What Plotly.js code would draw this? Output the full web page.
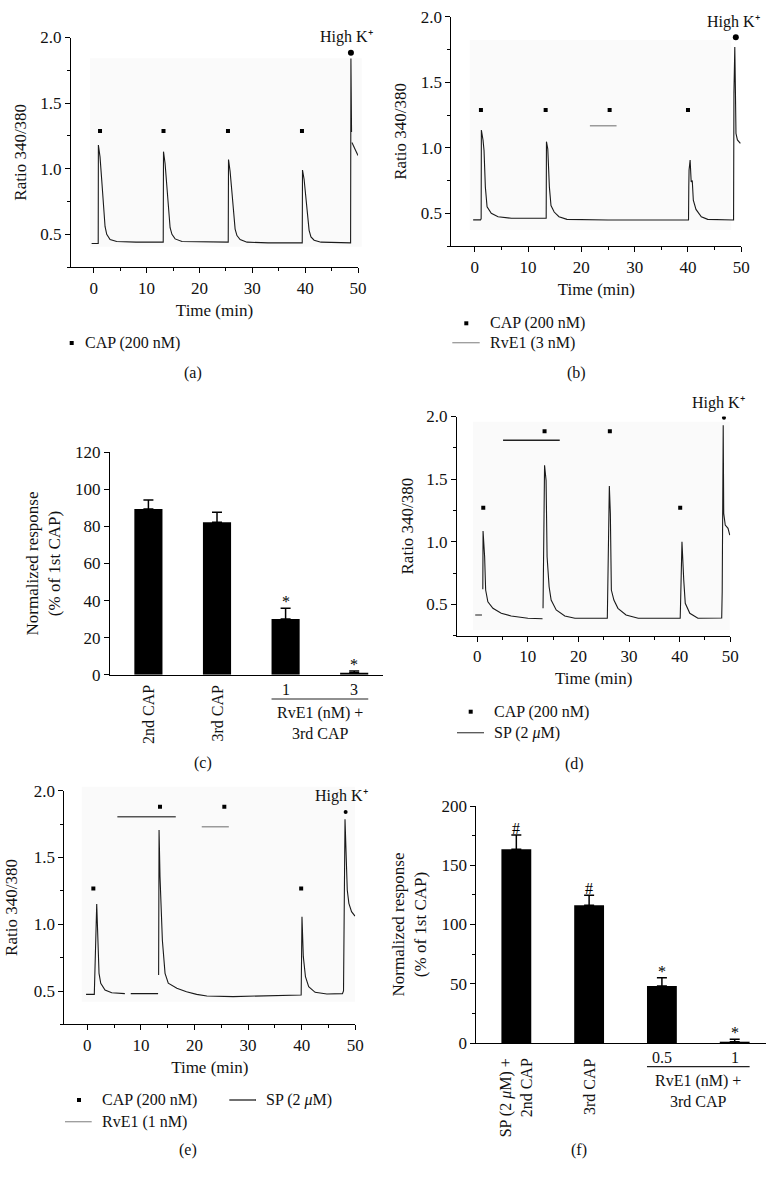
<!DOCTYPE html>
<html><head><meta charset="utf-8">
<script src="https://cdn.plot.ly/plotly-3.0.1.min.js"></script>
<style>html,body{margin:0;padding:0;background:#fff}#chart{width:777px;height:1183px}</style>
</head><body><div id="chart"></div>
<script>
// ================= DATA =================
// (a) ratio trace [time (min), ratio]
const traceA = [[-0.4,0.43],[0.85,0.43],[0.88,1.18],[1.19,1.09],[1.52,0.91],[1.82,0.71],[2.14,0.56],[2.46,0.50],[3.09,0.46],[4.35,0.445],[8,0.44],[13.15,0.44],[13.2,1.13],[13.5,1.04],[13.85,0.87],[14.15,0.68],[14.45,0.55],[14.8,0.50],[15.4,0.465],[16.7,0.445],[20,0.445],[25.45,0.44],[25.5,1.07],[25.8,0.98],[26.15,0.82],[26.45,0.64],[26.75,0.54],[27.1,0.49],[27.7,0.46],[29.0,0.44],[33,0.435],[39.45,0.435],[39.5,0.99],[39.8,0.92],[40.15,0.78],[40.45,0.62],[40.75,0.53],[41.1,0.48],[41.7,0.455],[43.0,0.44],[46,0.435],[48.6,0.435],[48.66,1.84],[48.72,1.65],[48.78,1.28],[null,null],[48.85,1.2],[48.97,1.19],[49.2,1.16],[49.5,1.14],[49.8,1.12],[50.0,1.10]];
const capA_x = [1.19, 13.2, 25.4, 39.4];
const capA_y = [1.287, 1.287, 1.287, 1.287];
const highKA_x = [48.66], highKA_y = [1.883];

// (b)
const traceB = [[-0.3,0.45],[1.1,0.45],[1.2,0.46],[1.24,1.136],[1.55,1.06],[1.74,0.98],[1.99,0.70],[2.31,0.55],[3.1,0.50],[4.37,0.474],[6.87,0.462],[13.1,0.462],[13.4,0.462],[13.45,1.047],[13.7,0.99],[14.0,0.70],[14.3,0.56],[14.9,0.51],[15.8,0.474],[17.3,0.454],[25,0.449],[35,0.449],[40.1,0.449],[40.15,0.70],[40.2,0.83],[40.4,0.907],[40.6,0.74],[40.8,0.75],[41.0,0.60],[41.5,0.53],[42.5,0.474],[43.7,0.454],[48.55,0.449],[48.62,1.42],[48.78,1.77],[48.9,1.42],[48.97,1.30],[49.0,1.11],[49.27,1.06],[49.83,1.034]];
const capB_x = [1.16, 13.3, 25.3, 40.0];
const capB_y = [1.289, 1.289, 1.289, 1.289];
const highKB_x = [48.97], highKB_y = [1.843];
const rveB_x = [21.6, 26.6], rveB_y = [1.169, 1.169];

// (c) bars
const catsC = ['2nd CAP', '3rd CAP', '1', '3'];
const valC = [89.4, 82.2, 30.0, 1.1];
const errC = [4.8, 5.4, 5.8, 0.9];
const sigC = ['', '', '*', '*'];
const groupC = 'RvE1 (nM) +<br>3rd CAP';

// (d)
const traceD = [[-0.4,0.415],[0.93,0.415],[null,null],[1.1,0.62],[1.15,1.085],[1.46,0.88],[1.66,0.614],[2.1,0.52],[3.1,0.468],[4.74,0.428],[6.7,0.407],[10.0,0.388],[12.9,0.385],[null,null],[13.0,0.468],[13.3,1.61],[13.6,1.49],[13.8,0.88],[14.2,0.64],[14.6,0.534],[15.6,0.455],[17.3,0.407],[19.3,0.388],[25.7,0.388],[26.1,1.444],[26.3,1.226],[26.5,0.614],[27.0,0.534],[27.8,0.468],[29.4,0.415],[31.8,0.388],[40.1,0.388],[40.2,0.55],[40.45,0.999],[40.8,0.694],[41.1,0.508],[42.0,0.428],[43.6,0.388],[48.3,0.39],[48.4,0.60],[48.6,1.93],[48.65,1.52],[48.7,1.226],[49.0,1.133],[49.55,1.107],[49.9,1.053]];
const capD_x = [1.19, 13.3, 26.2, 40.1];
const capD_y = [1.271, 1.883, 1.883, 1.271];
const highKD_x = [48.75], highKD_y = [1.99];
const spD_x = [5.1, 16.3], spD_y = [1.811, 1.811];

// (e)
const traceE = [[-0.24,0.475],[1.3,0.475],[1.75,1.151],[1.94,0.857],[2.18,0.632],[2.5,0.558],[3.3,0.507],[4.55,0.487],[7.0,0.48],[null,null],[8.1,0.48],[13.2,0.48],[null,null],[13.3,0.62],[13.38,1.705],[13.56,1.355],[13.75,1.18],[14.0,0.88],[14.5,0.632],[15.1,0.558],[16.7,0.52],[18.5,0.495],[20.4,0.475],[22.3,0.463],[27.2,0.458],[37.2,0.465],[39.9,0.47],[40.05,1.056],[40.3,0.757],[40.7,0.607],[41.3,0.532],[42.5,0.49],[44.7,0.478],[47.6,0.48],[47.8,0.50],[48.08,1.785],[48.2,1.655],[48.4,1.43],[48.5,1.256],[48.8,1.156],[49.3,1.094],[49.95,1.061]];
const capE_x = [1.12, 13.56, 25.56, 39.9];
const capE_y = [1.268, 1.879, 1.879, 1.268];
const highKE_x = [48.2], highKE_y = [1.84];
const spE_x = [5.6, 16.5], spE_y = [1.804, 1.804];
const rveE_x = [21.35, 26.4], rveE_y = [1.729, 1.729];

// (f) bars
const catsF = ['SP (2 <i>μ</i>M) +<br>2nd CAP', '3rd CAP', '0.5', '1'];
const valF = [163.4, 116.2, 48.1, 1.1];
const errF = [12.1, 8.4, 7.0, 2.0];
const sigF = ['#', '#', '*', '*'];
const groupF = 'RvE1 (nM) +<br>3rd CAP';

const HIGHK = 'High K⁺';

// ================= STYLE / LAYOUT =================
const W = 777, H = 1183;
const px = v => v / W;
const py = v => 1 - v / H;
const FAM = 'Liberation Serif, Times New Roman, serif';
const TXT = '#111111';
const FONT = {family: FAM, size: 16, color: TXT};
const AXFONT = {family: FAM, size: 17, color: TXT};
const BAR_W = 0.41;

const xs = arr => arr.map(p => p[0]);
const ys = arr => arr.map(p => p[1]);

function lineTrace(arr, xa, ya) {
  return {type: 'scatter', mode: 'lines', x: xs(arr), y: ys(arr), xaxis: xa, yaxis: ya,
    line: {color: '#1a1a1a', width: 1.1}, connectgaps: false, showlegend: false, hoverinfo: 'skip'};
}
function capTrace(x, y, xa, ya) {
  return {type: 'scatter', mode: 'markers', x: x, y: y, xaxis: xa, yaxis: ya,
    marker: {symbol: 'square', size: 4, color: '#000'}, showlegend: false, hoverinfo: 'skip'};
}
function dotTrace(x, y, xa, ya, s) {
  return {type: 'scatter', mode: 'markers', x: x, y: y, xaxis: xa, yaxis: ya,
    marker: {symbol: 'circle', size: s, color: '#000'}, showlegend: false, hoverinfo: 'skip'};
}
function barLine(x, y, xa, ya, color) {
  return {type: 'scatter', mode: 'lines', x: x, y: y, xaxis: xa, yaxis: ya,
    line: {color: color, width: 1.5}, showlegend: false, hoverinfo: 'skip'};
}
function barTrace(vals, errs, xa, ya) {
  return {type: 'bar', x: vals.map((v, i) => i), y: vals, xaxis: xa, yaxis: ya, width: BAR_W,
    marker: {color: '#000', line: {width: 0}},
    error_y: {type: 'data', array: errs, arrayminus: errs.map(() => 0), symmetric: false,
      color: '#000', thickness: 1.5, width: 5},
    showlegend: false, hoverinfo: 'skip'};
}

const data = [
  lineTrace(traceA, 'x', 'y'), capTrace(capA_x, capA_y, 'x', 'y'), dotTrace(highKA_x, highKA_y, 'x', 'y', 6),
  lineTrace(traceB, 'x2', 'y2'), capTrace(capB_x, capB_y, 'x2', 'y2'), dotTrace(highKB_x, highKB_y, 'x2', 'y2', 6),
  barLine(rveB_x, rveB_y, 'x2', 'y2', '#9a9a9a'),
  barTrace(valC, errC, 'x3', 'y3'),
  lineTrace(traceD, 'x4', 'y4'), capTrace(capD_x, capD_y, 'x4', 'y4'), dotTrace(highKD_x, highKD_y, 'x4', 'y4', 4),
  barLine(spD_x, spD_y, 'x4', 'y4', '#222'),
  lineTrace(traceE, 'x5', 'y5'), capTrace(capE_x, capE_y, 'x5', 'y5'), dotTrace(highKE_x, highKE_y, 'x5', 'y5', 4),
  barLine(spE_x, spE_y, 'x5', 'y5', '#555'), barLine(rveE_x, rveE_y, 'x5', 'y5', '#9a9a9a'),
  barTrace(valF, errF, 'x6', 'y6')
];

const baseAxis = {
  showline: true, linecolor: '#000', linewidth: 1, mirror: false,
  ticks: 'outside', ticklen: 5, tickwidth: 1, tickcolor: '#000',
  showgrid: false, zeroline: false, tickfont: AXFONT, fixedrange: true
};
function timeX(anchor, d0, d1, r0) {
  return Object.assign({}, baseAxis, {anchor: anchor, domain: [px(d0), px(d1)], range: [r0, 50],
    tick0: 0, dtick: 10, minor: {ticks: 'outside', ticklen: 3, tickcolor: '#000', dtick: 5, tick0: 0},
    title: {text: 'Time (min)', font: AXFONT, standoff: 7}});
}
function ratioY(anchor, top, bottom, standoff) {
  return Object.assign({}, baseAxis, {anchor: anchor, domain: [py(bottom), py(top)], range: [0.25, 2.0],
    tick0: 0, dtick: 0.5, tickformat: '.1f',
    minor: {ticks: 'outside', ticklen: 3, tickcolor: '#000', dtick: 0.25, tick0: 0},
    title: {text: 'Ratio 340/380', font: AXFONT, standoff: standoff}});
}
function catX(anchor, d0, d1, r0, r1) {
  return Object.assign({}, baseAxis, {anchor: anchor, domain: [px(d0), px(d1)], range: [r0, r1],
    ticks: '', showticklabels: false});
}
function respY(anchor, top, bottom, rmax, dt, minorDt) {
  const ax = Object.assign({}, baseAxis, {anchor: anchor, domain: [py(bottom), py(top)], range: [0, rmax],
    tick0: 0, dtick: dt,
    title: {text: 'Normalized response<br>(% of 1st CAP)', font: AXFONT, standoff: 10}});
  if (minorDt) ax.minor = {ticks: 'outside', ticklen: 3, tickcolor: '#000', dtick: minorDt, tick0: 0};
  return ax;
}

const annotations = [];
const shapes = [];
function note(text, x, y, opts) {
  annotations.push(Object.assign({text: text, x: x, y: y, xref: 'paper', yref: 'paper',
    showarrow: false, font: FONT, xanchor: 'center', yanchor: 'middle'}, opts || {}));
}
// faint background boxes of the original recordings
function bgBox(x0, x1, y0, y1) {
  shapes.push({type: 'rect', xref: 'paper', yref: 'paper', x0: px(x0), x1: px(x1), y0: py(y1), y1: py(y0),
    fillcolor: '#fafafa', line: {width: 0}, layer: 'below'});
}
bgBox(90, 361.7, 58.3, 246.7);
bgBox(469.7, 731.3, 40, 230);
bgBox(473, 729.7, 421.7, 630);
bgBox(81.7, 355, 786.7, 1001.7);

// legend glyphs
function legSquare(cx, cy) {
  shapes.push({type: 'rect', xref: 'paper', yref: 'paper', x0: px(cx - 2), x1: px(cx + 2), y0: py(cy + 2), y1: py(cy - 2),
    fillcolor: '#000', line: {width: 0}});
}
function legLine(x0, x1, cy, color) {
  shapes.push({type: 'line', xref: 'paper', yref: 'paper', x0: px(x0), x1: px(x1), y0: py(cy), y1: py(cy),
    line: {color: color, width: 1.3}});
}
function legText(text, x, y) { note(text, px(x), py(y), {xanchor: 'left'}); }

// (a) legend
legSquare(71.7, 343); legText('CAP (200 nM)', 83, 343);
// (b) legend
legSquare(466.3, 323.3); legText('CAP (200 nM)', 488, 323.3);
legLine(452.3, 479.7, 342.7, '#9a9a9a'); legText('RvE1 (3 nM)', 488, 342.7);
// (d) legend
legSquare(470.7, 711.7); legText('CAP (200 nM)', 492, 711.7);
legLine(457, 484, 732.7, '#555'); legText('SP (2 <i>μ</i>M)', 492, 732.7);
// (e) legend
legSquare(79, 1100); legText('CAP (200 nM)', 100, 1100);
legLine(229.3, 256, 1100, '#222'); legText('SP (2 <i>μ</i>M)', 264, 1100);
legLine(65, 91.7, 1121.7, '#9a9a9a'); legText('RvE1 (1 nM)', 100, 1121.7);

// panel letters
note('(a)', px(193), py(373));
note('(b)', px(576.3), py(373));
note('(c)', px(203), py(763.3));
note('(d)', px(574), py(764));
note('(e)', px(188.3), py(1150));
note('(f)', px(579), py(1150));

// High K+ labels
note(HIGHK, px(346.7), py(36.7));
note(HIGHK, px(733), py(21.7));
note(HIGHK, px(718), py(403));
note(HIGHK, px(341.7), py(796));

// bar category labels, significance marks, group lines
const SIGFONT = {family: FAM, size: 16, color: '#000000'};
function barLabels(cats, vals, errs, sigs, group, xa, ya, labTop, numY, lineY, groupY) {
  cats.forEach((c, i) => {
    if (i < 2) {
      annotations.push({text: c, x: i, xref: xa, y: py(labTop), yref: 'paper', textangle: -90,
        xanchor: 'center', yanchor: 'top', align: 'right', showarrow: false, font: FONT});
    } else {
      annotations.push({text: c, x: i, xref: xa, y: py(numY), yref: 'paper',
        xanchor: 'center', yanchor: 'middle', showarrow: false, font: FONT});
    }
    if (sigs[i]) {
      annotations.push({text: sigs[i], x: i, xref: xa, y: vals[i] + errs[i], yref: ya,
        xanchor: 'center', yanchor: 'bottom', yshift: -4, showarrow: false, font: SIGFONT});
    }
  });
  shapes.push({type: 'line', xref: xa, yref: 'paper', x0: 2 - BAR_W / 2, x1: 3 + BAR_W / 2,
    y0: py(lineY), y1: py(lineY), line: {color: '#222', width: 1.2}});
  annotations.push({text: group, x: 2.5, xref: xa, y: py(groupY), yref: 'paper',
    xanchor: 'center', yanchor: 'middle', showarrow: false, font: FONT});
}
barLabels(catsC, valC, errC, sigC, groupC, 'x3', 'y3', 683, 689, 699, 722.8);
barLabels(catsF, valF, errF, sigF, groupF, 'x6', 'y6', 1056.5, 1057, 1066.7, 1090.8);

const layout = {
  width: W, height: H, margin: {l: 0, r: 0, t: 0, b: 0},
  paper_bgcolor: '#fff', plot_bgcolor: 'rgba(0,0,0,0)',
  font: FONT, showlegend: false, hovermode: false,
  xaxis: timeX('y', 71, 358, -4.3),
  yaxis: ratioY('x', 37.5, 267.1, 9),
  xaxis2: timeX('y2', 451.3, 741.3, -4.4),
  yaxis2: ratioY('x2', 16.8, 246.1, 9),
  xaxis3: catX('y3', 110, 383, -0.56, 3.42),
  yaxis3: respY('x3', 452.3, 674.7, 120, 20, null),
  xaxis4: timeX('y4', 457, 730.3, -4.0),
  yaxis4: ratioY('x4', 416.5, 635.6, 8),
  xaxis5: timeX('y5', 64.3, 355.3, -4.3),
  yaxis5: ratioY('x5', 790.6, 1024.4, 11),
  xaxis6: catX('y6', 476.3, 766, -0.55, 3.43),
  yaxis6: respY('x6', 806, 1043, 200, 50, 25),
  annotations: annotations,
  shapes: shapes
};

Plotly.newPlot('chart', data, layout, {displayModeBar: false, staticPlot: true});
</script>
</body></html>
